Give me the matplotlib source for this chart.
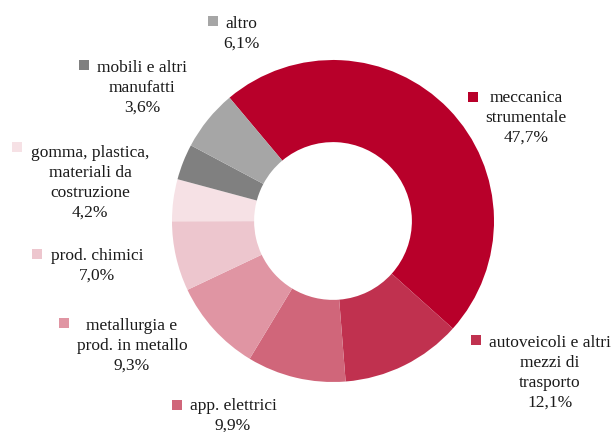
import matplotlib.pyplot as plt
from matplotlib.patches import Rectangle

plt.rcParams['font.family'] = ['Liberation Serif', 'DejaVu Serif']

# dati (quota %)
settori = ['meccanica\nstrumentale', 'autoveicoli e altri\nmezzi di\ntrasporto',
           'app. elettrici', 'metallurgia e\nprod. in metallo', 'prod. chimici',
           'gomma, plastica,\nmateriali da\ncostruzione', 'mobili e altri\nmanufatti', 'altro']
quote = [47.7, 12.1, 9.9, 9.3, 7.0, 4.2, 3.6, 6.1]
colori = ['#B8002A', '#C0314F', '#D0667A', '#E095A3', '#EDC6CE', '#F6E1E5', '#808080', '#A6A6A6']

W, H = 615, 432
fig = plt.figure(figsize=(W / 100, H / 100), dpi=100)

# ciambella: centro (333, 221) px, raggio 161 px
cx, cy, r = 333, 221, 161
ax = fig.add_axes([(cx - r) / W, (H - cy - r) / H, 2 * r / W, 2 * r / H])
ax.pie(quote, colors=colori, startangle=130, counterclock=False, radius=1,
       wedgeprops=dict(width=0.51, linewidth=0))
ax.set_xlim(-1, 1)
ax.set_ylim(-1, 1)
ax.set_aspect('equal')
ax.axis('off')

# etichette in coordinate pixel
ov = fig.add_axes([0, 0, 1, 1])
ov.set_xlim(0, W)
ov.set_ylim(H, 0)
ov.axis('off')

# (marker x, marker y, testo x, baseline prima riga)
pos = [
    (473, 97, 526, 102),
    (476, 340, 550, 347),
    (177, 405, 233, 410),
    (64, 323, 132, 330),
    (37, 254, 97, 260),
    (17, 147, 90, 157),
    (84, 65, 142, 72),
    (213, 21, 241, 28),
]
passo = 19.8

for nome, q, col, (mx, my, tx, ty) in zip(settori, quote, colori, pos):
    ov.add_patch(Rectangle((mx - 5, my - 5), 10, 10, color=col, lw=0))
    testo = nome + '\n' + f'{q:.1f}'.replace('.', ',') + '%'
    n = testo.count('\n')
    ov.text(tx, ty + n * passo, testo, ha='center', va='baseline', fontsize=12.5,
            linespacing=1.32, color='#1a1a1a')

fig.savefig('out.png', dpi=100)
